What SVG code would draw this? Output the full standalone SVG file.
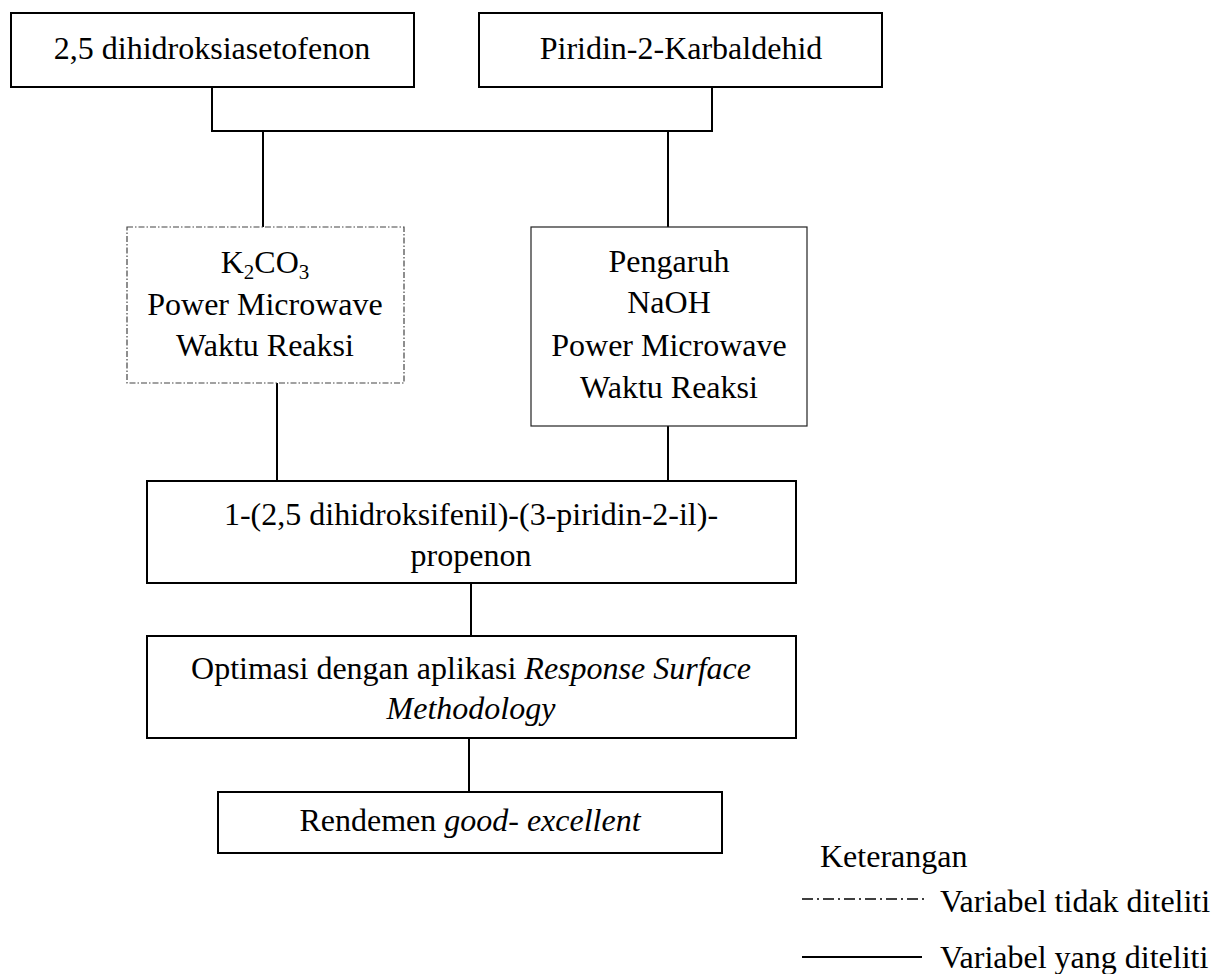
<svg xmlns="http://www.w3.org/2000/svg" width="1218" height="974" viewBox="0 0 1218 974">
<style>
text{font-family:"Liberation Serif","Times New Roman",serif;font-size:32px;fill:#000}
.i{font-style:italic}
.box{fill:#fff;stroke:#000;stroke-width:2}
.thin{fill:#fff;stroke:#222;stroke-width:1.2}
.dash{fill:#fff;stroke:#444;stroke-width:1.2;stroke-dasharray:6 2 1.5 2}
.c{fill:none;stroke:#000;stroke-width:2}
</style>
<rect width="1218" height="974" fill="#fff"/>
<g id="connectors">
<polyline class="c" points="212,87 212,131 712,131 712,87"/>
<line class="c" x1="263" y1="131" x2="263" y2="227"/>
<line class="c" x1="668" y1="131" x2="668" y2="227"/>
<line class="c" x1="277" y1="383" x2="277" y2="481"/>
<line class="c" x1="668" y1="426" x2="668" y2="481"/>
<line class="c" x1="471" y1="583" x2="471" y2="636"/>
<line class="c" x1="469" y1="738" x2="469" y2="792"/>
</g>
<g id="n1">
<rect class="box" x="11" y="13" width="403" height="74"/>
<text text-anchor="middle" x="212" y="59">2,5 dihidroksiasetofenon</text>
</g>
<g id="n2">
<rect class="box" x="479" y="13" width="403" height="74"/>
<text text-anchor="middle" x="681" y="59">Piridin-2-Karbaldehid</text>
</g>
<g id="n3">
<rect class="dash" x="127" y="227" width="277" height="156"/>
<text text-anchor="middle" x="265" y="273">K<tspan font-size="21" dy="6">2</tspan><tspan dy="-6">CO</tspan><tspan font-size="21" dy="6">3</tspan></text>
<text text-anchor="middle" x="265" y="315">Power Microwave</text>
<text text-anchor="middle" x="265" y="356">Waktu Reaksi</text>
</g>
<g id="n4">
<rect class="thin" x="531" y="227" width="276" height="199"/>
<text text-anchor="middle" x="669" y="272">Pengaruh</text>
<text text-anchor="middle" x="669" y="313">NaOH</text>
<text text-anchor="middle" x="669" y="356">Power Microwave</text>
<text text-anchor="middle" x="669" y="398">Waktu Reaksi</text>
</g>
<g id="n5">
<rect class="box" x="147" y="481" width="649" height="102"/>
<text text-anchor="middle" x="471" y="525">1-(2,5 dihidroksifenil)-(3-piridin-2-il)-</text>
<text text-anchor="middle" x="471" y="566">propenon</text>
</g>
<g id="n6">
<rect class="box" x="147" y="636" width="649" height="102"/>
<text text-anchor="middle" x="471" y="679">Optimasi dengan aplikasi <tspan class="i">Response Surface</tspan></text>
<text text-anchor="middle" class="i" x="471" y="719">Methodology</text>
</g>
<g id="n7">
<rect class="box" x="218" y="792" width="504" height="61"/>
<text text-anchor="middle" x="470" y="831">Rendemen <tspan class="i">good- excellent</tspan></text>
</g>
<g id="legend">
<text x="820" y="867">Keterangan</text>
<line x1="802" y1="899" x2="924" y2="899" stroke="#000" stroke-width="1.5" stroke-dasharray="11 4 2 4"/>
<text x="940" y="912">Variabel tidak diteliti</text>
<line x1="802" y1="957" x2="922" y2="957" stroke="#000" stroke-width="2"/>
<text x="940" y="968">Variabel yang diteliti</text>
</g>
</svg>
